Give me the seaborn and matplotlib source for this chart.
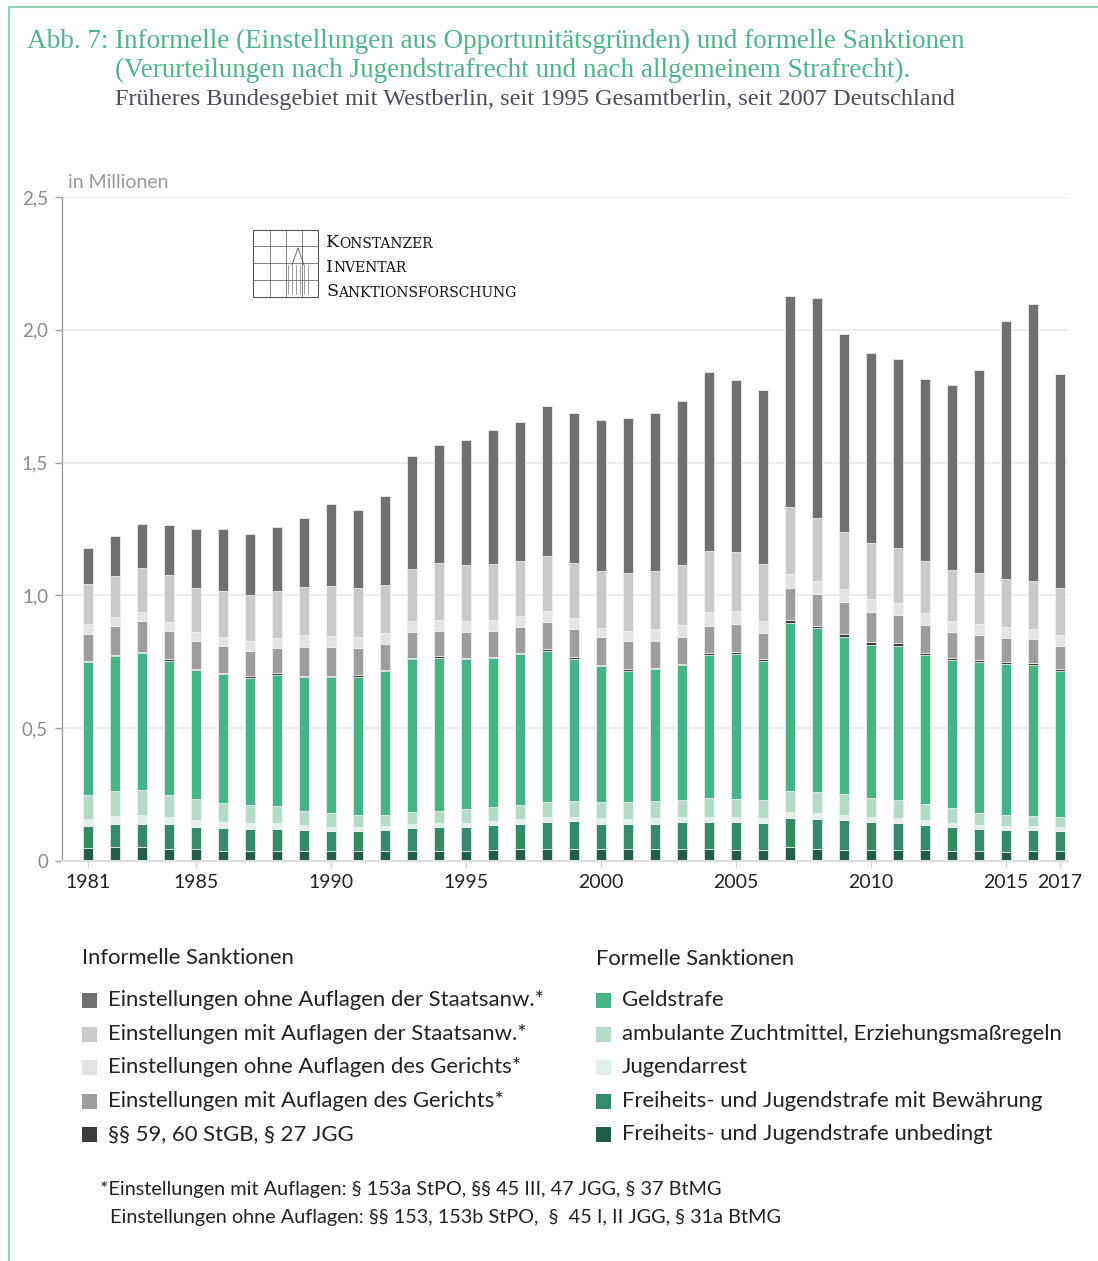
import numpy as np
import matplotlib
matplotlib.use("Agg")
import matplotlib.pyplot as plt
from matplotlib.lines import Line2D
from matplotlib.patches import Rectangle
import seaborn as sns

# Werte in Millionen, 1981-2017
years = list(range(1981, 2018))

unbedingt = [0.048, 0.051, 0.051, 0.046, 0.044, 0.039, 0.039, 0.039, 0.039, 0.039,
             0.039, 0.039, 0.039, 0.039, 0.039, 0.043, 0.046, 0.046, 0.046, 0.046,
             0.046, 0.046, 0.046, 0.046, 0.043, 0.043, 0.051, 0.046, 0.043, 0.043,
             0.043, 0.043, 0.039, 0.039, 0.035, 0.039, 0.039]
bewaehrung = [0.082, 0.087, 0.090, 0.092, 0.085, 0.087, 0.083, 0.083, 0.079, 0.075,
              0.075, 0.079, 0.087, 0.090, 0.090, 0.094, 0.095, 0.099, 0.103, 0.095,
              0.095, 0.095, 0.099, 0.099, 0.103, 0.099, 0.110, 0.112, 0.110, 0.103,
              0.099, 0.094, 0.090, 0.083, 0.083, 0.079, 0.075]
jugendarrest = [0.029, 0.031, 0.031, 0.028, 0.025, 0.021, 0.021, 0.021, 0.016, 0.013,
                0.013, 0.013, 0.014, 0.014, 0.014, 0.014, 0.016, 0.020, 0.016, 0.020,
                0.016, 0.020, 0.020, 0.020, 0.020, 0.020, 0.025, 0.023, 0.020, 0.020,
                0.020, 0.018, 0.014, 0.014, 0.013, 0.013, 0.014]
ambulant = [0.090, 0.095, 0.097, 0.083, 0.079, 0.070, 0.067, 0.063, 0.056, 0.054,
            0.046, 0.043, 0.043, 0.044, 0.051, 0.051, 0.055, 0.056, 0.060, 0.060,
            0.064, 0.064, 0.064, 0.072, 0.068, 0.068, 0.079, 0.077, 0.080, 0.072,
            0.068, 0.059, 0.055, 0.046, 0.043, 0.039, 0.038]
geldstrafe = [0.502, 0.508, 0.515, 0.505, 0.487, 0.488, 0.479, 0.494, 0.503, 0.512,
              0.521, 0.541, 0.579, 0.579, 0.566, 0.563, 0.567, 0.570, 0.536, 0.512,
              0.496, 0.497, 0.508, 0.540, 0.547, 0.523, 0.630, 0.619, 0.591, 0.576,
              0.579, 0.560, 0.560, 0.569, 0.569, 0.569, 0.551]
par59 = [0.003, 0.003, 0.004, 0.005, 0.004, 0.003, 0.008, 0.006, 0.004, 0.004,
         0.006, 0.003, 0.004, 0.006, 0.004, 0.004, 0.006, 0.006, 0.006, 0.006,
         0.006, 0.005, 0.006, 0.006, 0.006, 0.008, 0.011, 0.006, 0.010, 0.011,
         0.011, 0.010, 0.006, 0.006, 0.006, 0.006, 0.006]
gericht_mit = [0.101, 0.110, 0.115, 0.108, 0.104, 0.103, 0.094, 0.097, 0.109, 0.110,
               0.103, 0.098, 0.098, 0.095, 0.099, 0.098, 0.097, 0.102, 0.107, 0.104,
               0.104, 0.100, 0.099, 0.103, 0.104, 0.099, 0.122, 0.123, 0.120, 0.114,
               0.107, 0.103, 0.099, 0.094, 0.092, 0.092, 0.088]
gericht_ohne = [0.038, 0.034, 0.033, 0.034, 0.033, 0.033, 0.038, 0.036, 0.046, 0.041,
                0.041, 0.043, 0.041, 0.040, 0.040, 0.040, 0.041, 0.041, 0.041, 0.036,
                0.040, 0.045, 0.045, 0.050, 0.049, 0.044, 0.054, 0.049, 0.049, 0.048,
                0.045, 0.046, 0.040, 0.041, 0.041, 0.038, 0.041]
sta_mit = [0.151, 0.154, 0.166, 0.174, 0.166, 0.171, 0.171, 0.179, 0.181, 0.186,
           0.182, 0.182, 0.195, 0.215, 0.210, 0.211, 0.208, 0.209, 0.206, 0.213,
           0.219, 0.218, 0.229, 0.230, 0.222, 0.214, 0.249, 0.235, 0.217, 0.211,
           0.206, 0.198, 0.194, 0.191, 0.181, 0.181, 0.175]
sta_ohne = [0.134, 0.151, 0.167, 0.190, 0.222, 0.235, 0.233, 0.241, 0.257, 0.309,
            0.296, 0.335, 0.424, 0.444, 0.472, 0.504, 0.520, 0.563, 0.567, 0.568,
            0.582, 0.598, 0.615, 0.674, 0.650, 0.654, 0.798, 0.828, 0.746, 0.714,
            0.711, 0.682, 0.694, 0.764, 0.972, 1.043, 0.808]

year_ticks = [1981, 1985, 1990, 1995, 2000, 2005, 2010, 2015, 2017]
y_ticks = [0, 0.5, 1.0, 1.5, 2.0, 2.5]
y_labels = ["0", "0,5", "1,0", "1,5", "2,0", "2,5"]

informell = [
    ("Einstellungen ohne Auflagen der Staatsanw.*", sta_ohne, "#707070"),
    ("Einstellungen mit Auflagen der Staatsanw.*", sta_mit, "#cacaca"),
    ("Einstellungen ohne Auflagen des Gerichts*", gericht_ohne, "#e3e3e3"),
    ("Einstellungen mit Auflagen des Gerichts*", gericht_mit, "#9d9d9b"),
    ("§§ 59, 60 StGB, § 27 JGG", par59, "#3c3c3c"),
]
formell = [
    ("Geldstrafe", geldstrafe, "#46b486"),
    ("ambulante Zuchtmittel, Erziehungsmaßregeln", ambulant, "#b4dbc5"),
    ("Jugendarrest", jugendarrest, "#e1f1e7"),
    ("Freiheits- und Jugendstrafe mit Bewährung", bewaehrung, "#358a67"),
    ("Freiheits- und Jugendstrafe unbedingt", unbedingt, "#225e46"),
]
# Stapelreihenfolge von unten nach oben
stack = formell[::-1] + informell[::-1]

W, H = 1098, 1261


def fx(x):
    return x / W


def fy(y):
    return 1 - y / H


sns.set_theme(style="white")
plt.rcParams["font.family"] = ["Lato", "DejaVu Sans"]

fig = plt.figure(figsize=(W / 100, H / 100), dpi=100)
ax = fig.add_axes([fx(62), fy(861), fx(1068) - fx(62), fy(197) - fy(861)])

bottom = np.zeros(len(years))
for name, vals, col in stack:
    sns.barplot(x=years, y=vals, bottom=bottom.copy(), color=col, native_scale=True,
                width=0.4, saturation=1, errorbar=None, edgecolor="#f4f4f4",
                linewidth=0.5, ax=ax)
    bottom += np.array(vals)

ax.set_xlim(1980.04, 2017.3)
ax.set_ylim(0, 2.5)
ax.set_xlabel("")
ax.set_ylabel("")
ax.set_yticks(y_ticks)
ax.set_yticklabels(y_labels)
ax.set_xticks(year_ticks)
ax.set_xticklabels([str(y) for y in year_ticks])
ax.yaxis.grid(True, color="#e8e8e8", linewidth=1.1)
ax.set_axisbelow(True)
ax.tick_params(axis="y", left=True, length=5, width=1, color="#a0a0a0",
               labelcolor="#8c8c8c", labelsize=13.5, pad=5)
ax.tick_params(axis="x", bottom=True, length=5, width=1, color="#d6d6d6",
               labelcolor="#222222", labelsize=14, pad=4)
for s in ["top", "right"]:
    ax.spines[s].set_visible(False)
ax.spines["left"].set_color("#a0a0a0")
ax.spines["left"].set_linewidth(1)
ax.spines["bottom"].set_color("#dcdcdc")
ax.spines["bottom"].set_linewidth(1.5)

fig.text(fx(68), fy(183), "in Millionen", color="#9a9a9a", fontsize=14,
         ha="left", va="center")

# Rahmen
frame_col = "#8dd1ae"
fig.add_artist(Line2D([fx(9), fx(9)], [fy(7), 0], color=frame_col, lw=1.5))
fig.add_artist(Line2D([fx(9), 1], [fy(7), fy(7)], color=frame_col, lw=1.5))

# Titel
serif = ["Liberation Serif", "DejaVu Serif"]
green = "#4fb487"
fig.text(fx(27), fy(41), "Abb. 7:", family=serif, fontsize=19.5, color=green, va="center")
fig.text(fx(115), fy(41), "Informelle (Einstellungen aus Opportunitätsgründen) und formelle Sanktionen",
         family=serif, fontsize=19.5, color=green, va="center")
fig.text(fx(115), fy(70), "(Verurteilungen nach Jugendstrafrecht und nach allgemeinem Strafrecht).",
         family=serif, fontsize=19.5, color=green, va="center")
fig.text(fx(115), fy(100), "Früheres Bundesgebiet mit Westberlin, seit 1995 Gesamtberlin, seit 2007 Deutschland",
         family=serif, fontsize=17.5, color="#4b4b5c", va="center")

# Logo
logo_col = "#555555"
fig.add_artist(Rectangle((fx(253), fy(297)), fx(318) - fx(253), fy(230) - fy(297),
                         fill=False, ec=logo_col, lw=0.8))
for xl in [270, 286, 302]:
    fig.add_artist(Line2D([fx(xl), fx(xl)], [fy(297), fy(230)], color=logo_col, lw=0.5))
for yl in [246, 263, 280]:
    fig.add_artist(Line2D([fx(253), fx(318)], [fy(yl), fy(yl)], color=logo_col, lw=0.5))
for xl in [288, 292, 296, 300, 304, 308]:
    fig.add_artist(Line2D([fx(xl), fx(xl)], [fy(294), fy(265)], color=logo_col, lw=0.4))
fig.add_artist(Line2D([fx(292), fx(298), fx(304)], [fy(265), fy(248), fy(265)],
                      color=logo_col, lw=0.6))

for i, word in enumerate(["KONSTANZER", "INVENTAR", "SANKTIONSFORSCHUNG"]):
    yy = fy(247 + i * 24.5)
    t = fig.text(fx(326), yy, word[0], family="DejaVu Serif", fontsize=12.5,
                 color="#111111", va="baseline")
    ax.annotate(word[1:], xy=(1, 0), xycoords=t, xytext=(0.3, 0),
                textcoords="offset points", family="DejaVu Serif", fontsize=10,
                color="#111111", va="bottom", ha="left", annotation_clip=False)

# Legende
txt_col = "#222222"
fig.text(fx(82), fy(958), "Informelle Sanktionen", fontsize=15.8, color=txt_col, va="center")
fig.text(fx(596), fy(959), "Formelle Sanktionen", fontsize=15.8, color=txt_col, va="center")
row_y = [1000, 1034, 1067, 1101, 1134]
for col_x, items in [(82, informell), (596, formell)]:
    for (name, vals, col), yy in zip(items, row_y):
        fig.add_artist(Rectangle((fx(col_x), fy(yy + 7.5)), fx(15), 15 / H,
                                 color=col, lw=0))
        fig.text(fx(col_x + 26), fy(yy), name, fontsize=15.9, color=txt_col, va="center")

fig.text(fx(100), fy(1190), "*Einstellungen mit Auflagen: § 153a StPO, §§ 45 III, 47 JGG, § 37 BtMG",
         fontsize=14.3, color=txt_col, va="center")
fig.text(fx(110), fy(1217), "Einstellungen ohne Auflagen: §§ 153, 153b StPO,  §  45 I, II JGG, § 31a BtMG",
         fontsize=14.3, color=txt_col, va="center")

fig.savefig("out.png", dpi=100)
